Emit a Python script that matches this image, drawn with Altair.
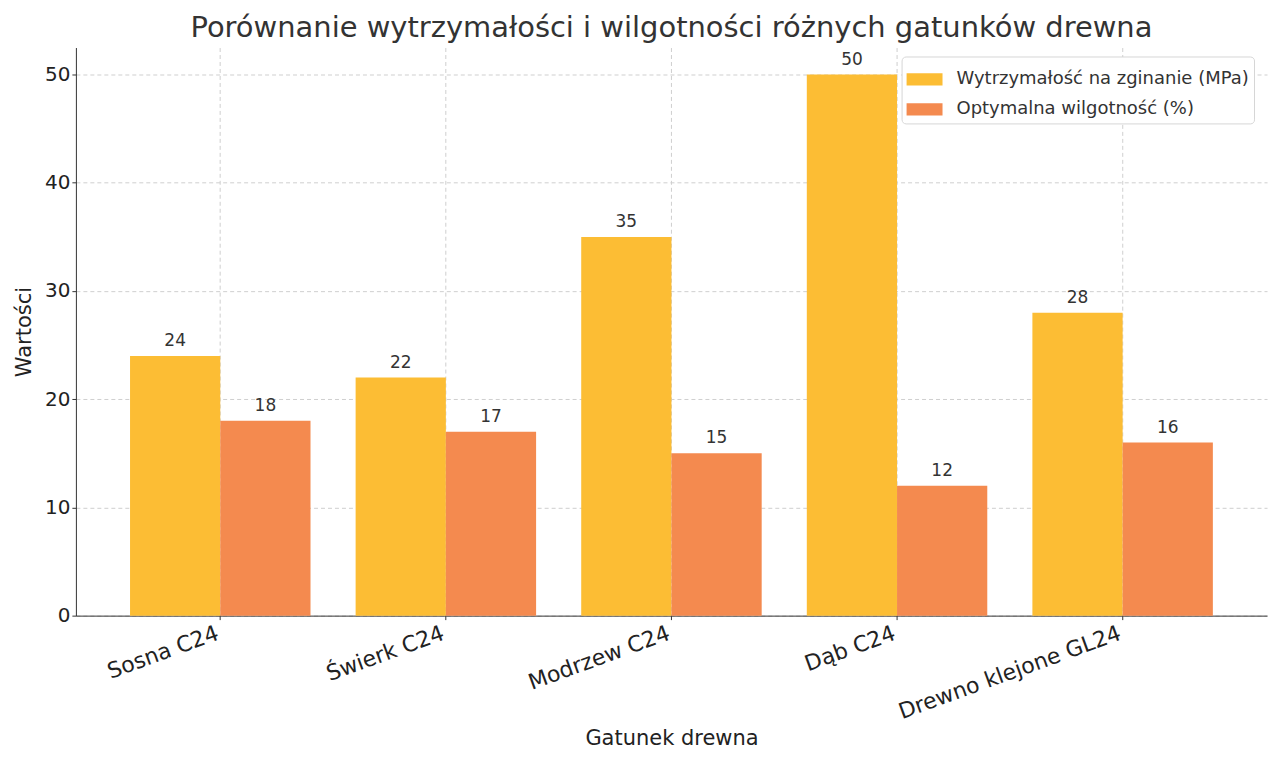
import pandas as pd
import altair as alt

gatunki = ["Sosna C24", "Świerk C24", "Modrzew C24", "Dąb C24", "Drewno klejone GL24"]
wytrzymalosc = [24, 22, 35, 50, 28]
wilgotnosc = [18, 17, 15, 12, 16]
serie = ["Wytrzymałość na zginanie (MPa)", "Optymalna wilgotność (%)"]
kolory = ["#FCBD34", "#F48A4F"]
y_ticki = [0, 10, 20, 30, 40, 50]

df = pd.DataFrame({
    "Gatunek": gatunki * 2,
    "Seria": [serie[0]] * len(gatunki) + [serie[1]] * len(gatunki),
    "Wartość": wytrzymalosc + wilgotnosc,
})

font = "DejaVu Sans"

x = alt.X("Gatunek:N", sort=gatunki, title="Gatunek drewna",
          scale=alt.Scale(paddingInner=0.2, paddingOuter=0.24),
          axis=alt.Axis(labelAngle=-20, labelAlign="right", labelBaseline="top",
                        labelFontSize=22, labelColor="#222", labelPadding=3, labelLimit=400,
                        labelOffset=-6,
                        titleFontSize=21, titleColor="#222", titleFontWeight="normal",
                        titlePadding=5, grid=True, bandPosition=0.5,
                        gridDash=[4, 3], gridColor="#cfcfcf", domainColor="#333",
                        tickColor="#333", tickSize=4))
xo = alt.XOffset("Seria:N", sort=serie, scale=alt.Scale(paddingInner=0, paddingOuter=0))
y = alt.Y("Wartość:Q", title="Wartości",
          scale=alt.Scale(domain=[0, 52.5], nice=False),
          axis=alt.Axis(values=y_ticki, labelFontSize=20, labelColor="#222",
                        titleFontSize=21, titleColor="#222", titleFontWeight="normal",
                        titlePadding=10, gridDash=[4, 3], gridColor="#cfcfcf",
                        domainColor="#333", tickColor="#333", tickSize=4))

bars = alt.Chart(df).mark_bar().encode(
    x=x, xOffset=xo, y=y,
    color=alt.Color("Seria:N", sort=serie,
                    scale=alt.Scale(domain=serie, range=kolory),
                    legend=alt.Legend(title=None, orient="none", legendX=827, legendY=9,
                                      labelFontSize=18, labelColor="#333", labelLimit=400,
                                      symbolType="M-1,-0.34H1V0.34H-1Z",
                                      symbolSize=1296, symbolStrokeWidth=0,
                                      symbolOpacity=1, labelOffset=14, rowPadding=3,
                                      padding=5, fillColor="white",
                                      strokeColor="#d6d6d6", cornerRadius=4)),
)

labels = alt.Chart(df).mark_text(baseline="bottom", dy=-6, fontSize=17, color="#333", font=font).encode(
    x=x, xOffset=xo, y=y, text="Wartość:Q"
)

chart = (bars + labels).properties(
    width=1193, height=569,
    title=alt.TitleParams("Porównanie wytrzymałości i wilgotności różnych gatunków drewna",
                          fontSize=29, fontWeight="normal", color="#333", offset=5),
).configure(font=font).configure_view(stroke=None)

chart.save("out.html", embed_options={"renderer": "svg", "actions": False})
